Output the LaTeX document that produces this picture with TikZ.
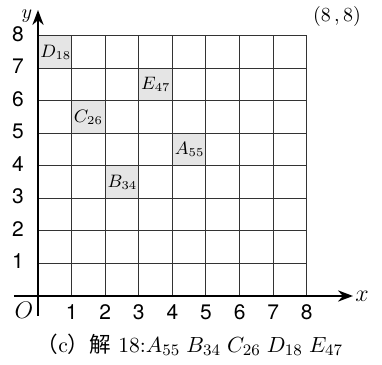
\documentclass[tikz,border=0pt]{standalone}
\usepackage{fontspec}
\newfontfamily\cjk{Noto Sans CJK SC}
\newfontfamily\axisfont{TeX Gyre Heros}
\usetikzlibrary{arrows.meta}
\definecolor{cellgray}{gray}{0.9}
\tikzset{
  gridline/.style={draw=black!80, line width=0.5pt},
  axisline/.style={line width=1pt},
  cellfill/.style={fill=cellgray},
  celllabel/.style={anchor=west, inner sep=1pt, font=\small},
  ticklabel/.style={font=\axisfont\fontsize{10.5}{12}\selectfont, inner sep=0pt},
}

\begin{document}
\begin{tikzpicture}[x=16.8pt,y=16.25pt,>=Stealth]
		\useasboundingbox (-19pt,-34.5pt) rectangle (172pt,148pt);
		
		% Shaded cells
		\fill[cellfill] (0,7) rectangle (1,8);
		\fill[cellfill] (3,6) rectangle (4,7);
		\fill[cellfill] (1,5) rectangle (2,6);
		\fill[cellfill] (4,4) rectangle (5,5);
		\fill[cellfill] (2,3) rectangle (3,4);
		
		% Grid
		\foreach \i in {1,...,8} {
			\draw[gridline] (\i,0) -- (\i,8);
			\draw[gridline] (0,\i) -- (8,\i);
		}
		
		% Axes
		\coordinate (xstart) at (-12pt,0);
		\coordinate (xend) at (157.5pt,0);
		\coordinate (ystart) at (0,-10pt);
		\coordinate (yend) at (0,143pt);
		\draw[axisline,->] (xstart) -- (xend);
		\draw[axisline,->] (ystart) -- (yend);
		\node[inner sep=0pt] (xlab) at (162pt,0) {\large$x$};
		\node[inner sep=0pt] (ylab) at (-5.5pt,140pt) {$y$};
		\node[inner sep=0pt] (origin) at (-7pt,-7pt) {\large$O$};
		
		% Tick labels
		\foreach \i in {1,...,8} {
			\node[ticklabel] (xt\i) at (\i,-8pt) {\i};
			\node[ticklabel] (yt\i) at ([yshift=1pt]-10pt,\i) {\i};
		}
		
		% Cell labels
		\node[celllabel] (D) at (0,7.5) {$D_{18}$};
		\node[celllabel] (E) at (3,6.5) {$E_{47}$};
		\node[celllabel] (C) at (1,5.5) {$C_{26}$};
		\node[celllabel] (A) at (4,4.5) {$A_{55}$};
		\node[celllabel] (B) at (2,3.5) {$B_{34}$};
		
		\node (corner) at (149.5pt,139.5pt) {(8\,,\,8)};
		
		% Caption
		\node (caption) at (76pt,-24.5pt) {\fontsize{10.8}{13}\selectfont{\cjk （}c{\cjk ）解} 18:$A_{55}\;B_{34}\;C_{26}\;D_{18}\;E_{47}$};
		
	\end{tikzpicture}
\end{document}
